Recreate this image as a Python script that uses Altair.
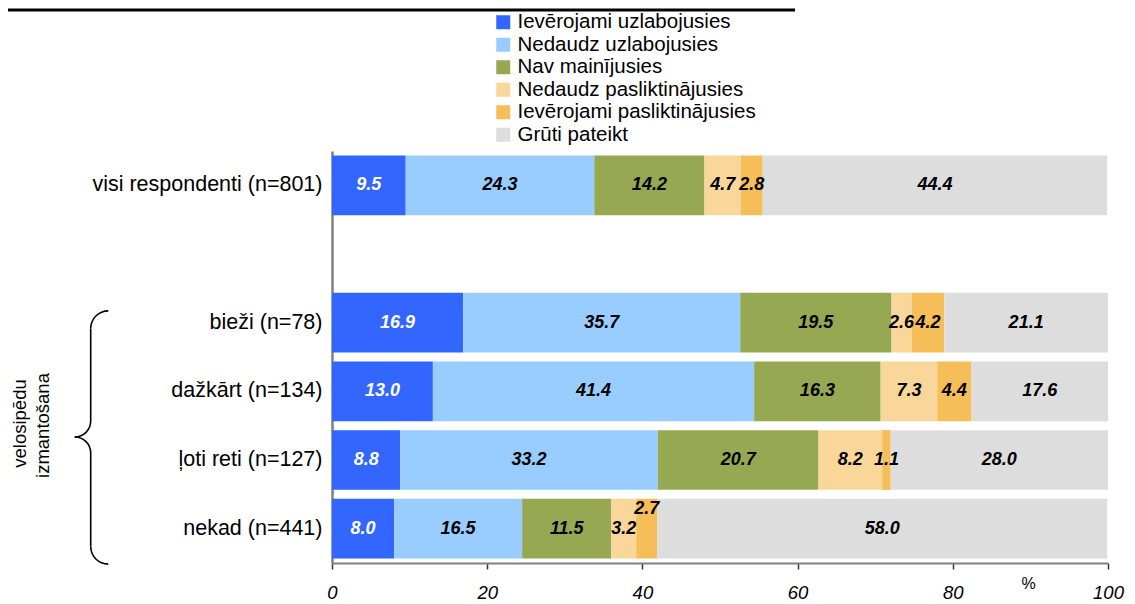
import altair as alt
import pandas as pd
import math

# ---- data ----
rows = ["visi respondenti (n=801)", "bieži (n=78)", "dažkārt (n=134)",
        "ļoti reti (n=127)", "nekad (n=441)"]
y_domain = [rows[0], " ", rows[1], rows[2], rows[3], rows[4]]

categories = ["Ievērojami uzlabojusies", "Nedaudz uzlabojusies", "Nav mainījusies",
              "Nedaudz pasliktinājusies", "Ievērojami pasliktinājusies", "Grūti pateikt"]
colors = ["#3366FF", "#99CCFF", "#97A852", "#F9D79B", "#F6BE58", "#DDDDDD"]

iev_uzl = [9.5, 16.9, 13.0, 8.8, 8.0]
ned_uzl = [24.3, 35.7, 41.4, 33.2, 16.5]
nav_main = [14.2, 19.5, 16.3, 20.7, 11.5]
ned_pasl = [4.7, 2.6, 7.3, 8.2, 3.2]
iev_pasl = [2.8, 4.2, 4.4, 1.1, 2.7]
gruti = [44.4, 21.1, 17.6, 28.0, 58.0]

series = [iev_uzl, ned_uzl, nav_main, ned_pasl, iev_pasl, gruti]
x_ticks = [0, 20, 40, 60, 80, 100]

records = []
for ci, (cat, vals) in enumerate(zip(categories, series)):
    for r, v in zip(rows, vals):
        records.append({"row": r, "cat": cat, "idx": ci, "value": v})
df = pd.DataFrame(records)

FONT = "Liberation Sans"

base = alt.Chart(df).transform_stack(
    stack="value", groupby=["row"], as_=["x0", "x1"],
    sort=[alt.SortField("idx", order="ascending")]
)

x_scale = alt.Scale(domain=[0, 100], nice=False)
y_scale = alt.Scale(domain=y_domain, paddingInner=0.13, paddingOuter=0.065)

bars = base.mark_bar().encode(
    x=alt.X("x0:Q", scale=x_scale,
            axis=alt.Axis(title=None, values=x_ticks, format="d", grid=False,
                          labelFontStyle="italic", labelFontSize=18.5, labelFont=FONT,
                          labelColor="black", labelFlush=False, labelOverlap=False,
                          tickSize=6, tickColor="#333333", tickWidth=1.5,
                          domainColor="#808080", domainWidth=2, labelPadding=14)),
    x2="x1:Q",
    y=alt.Y("row:N", scale=y_scale,
            axis=alt.Axis(title=None, ticks=False, labelFontSize=21.5, labelFont=FONT,
                          labelColor="black", labelPadding=10, labelLimit=400,
                          domainColor="#808080", domainWidth=2.5)),
    color=alt.Color("cat:N", scale=alt.Scale(domain=categories, range=colors),
                    legend=alt.Legend(title=None, orient="none", legendX=161, legendY=-139,
                                      symbolType="square", symbolSize=196,
                                      symbolStrokeWidth=0, labelFontSize=20.5,
                                      labelFont=FONT, labelColor="black", labelOffset=4,
                                      labelLimit=400, rowPadding=1.5, padding=0)),
)

special = "datum.row == 'nekad (n=441)' && datum.idx == 4"

labels = base.transform_calculate(mid="(datum.x0 + datum.x1) / 2").transform_filter(
    "!(" + special + ")"
).mark_text(font=FONT, fontSize=18, fontWeight="bold", fontStyle="italic").encode(
    x="mid:Q", y=alt.Y("row:N", scale=y_scale),
    text=alt.Text("value:Q", format=".1f"),
    color=alt.condition("datum.idx == 0", alt.value("white"), alt.value("black")),
)

labels_up = base.transform_calculate(mid="(datum.x0 + datum.x1) / 2").transform_filter(
    special
).mark_text(font=FONT, fontSize=18, fontWeight="bold", fontStyle="italic", dy=-20,
            color="black").encode(
    x="mid:Q", y=alt.Y("row:N", scale=y_scale),
    text=alt.Text("value:Q", format=".1f"),
)

one = pd.DataFrame({"a": [0]})

top_rule = alt.Chart(one).mark_rule(color="black", strokeWidth=3).encode(
    x=alt.value(-327), x2=alt.value(463), y=alt.value(-141))

pct = alt.Chart(one).mark_text(font=FONT, fontSize=16, color="black").encode(
    x=alt.value(696.5), y=alt.value(433), text=alt.value("%"))

vt1 = alt.Chart(one).mark_text(font=FONT, fontSize=18.5, angle=270, color="black",
                               align="center", baseline="middle").encode(
    x=alt.value(-312), y=alt.value(272.5), text=alt.value("velosipēdu"))
vt2 = alt.Chart(one).mark_text(font=FONT, fontSize=18.5, angle=270, color="black",
                               align="center", baseline="middle").encode(
    x=alt.value(-289), y=alt.value(274.5), text=alt.value("izmantošana"))

PI = math.pi
brace_layers = []
for cx, cy, r, t1, t2 in [(-223.7, 177.5, 17.6, 1.5 * PI, 2 * PI),
                          (-257.3, 270.0, 16.0, 0.5 * PI, PI),
                          (-257.3, 302.0, 16.0, 0.0, 0.5 * PI),
                          (-223.7, 395.5, 17.6, PI, 1.5 * PI)]:
    brace_layers.append(
        alt.Chart(one).mark_arc(color="black", theta=t1, theta2=t2,
                                radius=r + 0.8, radius2=r - 0.8).encode(
            x=alt.value(cx), y=alt.value(cy)))
for y1, y2 in [(177.5, 270.0), (302.0, 395.5)]:
    brace_layers.append(
        alt.Chart(one).mark_rule(color="black", strokeWidth=1.6).encode(
            x=alt.value(-241.3), y=alt.value(y1), y2=alt.value(y2)))

chart = alt.layer(bars, labels, labels_up, top_rule, pct, vt1, vt2, *brace_layers).properties(
    width=776, height=412,
    padding={"left": 324, "top": 143, "right": 19, "bottom": 45},
    autosize=alt.AutoSizeParams(type="none"),
).configure_view(stroke=None)

chart.save("out.html", embed_options={"renderer": "svg", "actions": False})
